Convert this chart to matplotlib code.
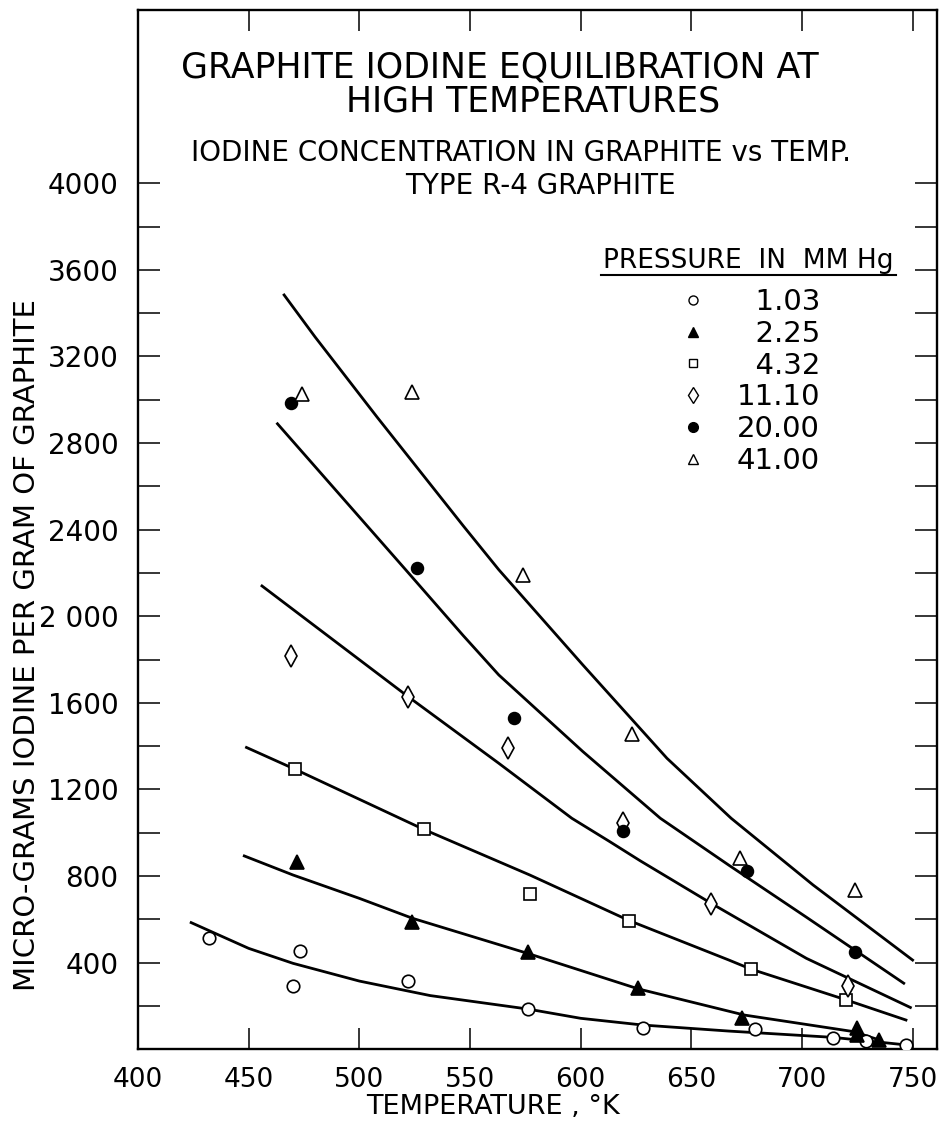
import numpy as np
import matplotlib
matplotlib.use("Agg")
import matplotlib.pyplot as plt
from matplotlib.lines import Line2D
from matplotlib.ticker import FixedLocator
from matplotlib.transforms import IdentityTransform

# pressure series (mm Hg)
pressures = ["1.03", "2.25", "4.32", "11.10", "20.00", "41.00"]

# measured points: temperature (K), iodine conc. (micro-g / g graphite)
t_p1 = [432, 473, 470, 522, 576, 628, 679, 714, 729, 747]
c_p1 = [513, 454, 292, 315, 184, 98, 94, 51, 39, 20]
t_p2 = [472, 524, 576, 626, 673, 725, 725, 735]
c_p2 = [867, 587, 451, 285, 146, 97, 65, 43]
t_p3 = [471, 529, 577, 622, 677, 720]
c_p3 = [1293, 1016, 719, 594, 370, 228]
t_p4 = [469, 522, 567, 619, 659, 721]
c_p4 = [1817, 1629, 1390, 1044, 670, 290]
t_p5 = [469, 526, 570, 619, 675, 724]
c_p5 = [2984, 2225, 1529, 1006, 824, 448]
t_p6 = [474, 524, 574, 623, 672, 724]
c_p6 = [3025, 3038, 2191, 1455, 885, 736]

# hand drawn curves
fit_t1 = [424, 450, 470, 500, 532, 576, 600, 628, 667, 714, 732, 749]
fit_c1 = [585, 466, 397, 315, 248, 186, 143, 112, 84, 55, 36, 18]
fit_t2 = [448, 470, 500, 524, 576, 626, 674, 723, 735]
fit_c2 = [893, 805, 697, 605, 443, 279, 158, 82, 43]
fit_t3 = [449, 471, 502, 529, 577, 622, 667, 677, 720, 747]
fit_c3 = [1394, 1293, 1145, 1016, 805, 594, 412, 370, 228, 135]
fit_t4 = [456, 522, 563, 596, 613, 627, 659, 702, 749]
fit_c4 = [2140, 1629, 1321, 1067, 960, 870, 674, 420, 193]
fit_t5 = [463, 521, 547, 563, 601, 636, 667, 702, 746]
fit_c5 = [2889, 2214, 1910, 1729, 1375, 1067, 850, 610, 305]
fit_t6 = [466, 480, 508, 547, 563, 601, 639, 668, 705, 750]
fit_c6 = [3484, 3290, 2920, 2417, 2215, 1775, 1344, 1067, 759, 412]

x_ticks = [400, 450, 500, 550, 600, 650, 700, 750]
y_ticks = [400, 800, 1200, 1600, 2000, 2400, 2800, 3200, 3600, 4000]
y_ticklabels = ["400", "800", "1200", "1600", "2 000", "2400", "2800", "3200", "3600", "4000"]
y_minor = [200, 600, 1000, 1400, 1800, 2200, 2600, 3000, 3400, 3800]

fig = plt.figure(figsize=(9.41, 11.28), dpi=100)
ax = fig.add_axes([0.1467, 0.0698, 0.849, 0.9213])

# curves
for ft, fc in [(fit_t1, fit_c1), (fit_t2, fit_c2), (fit_t3, fit_c3),
               (fit_t4, fit_c4), (fit_t5, fit_c5), (fit_t6, fit_c6)]:
    ax.plot(ft, fc, color="k", lw=2.0, zorder=2)

# marker styles per series: marker, size, face
styles = [("o", 9, "white"), ("^", 10, "black"), ("s", 8, "white"),
          ("d", 11, "white"), ("o", 8.5, "black"), ("^", 10, "white")]
pts = [(t_p1, c_p1), (t_p2, c_p2), (t_p3, c_p3),
       (t_p4, c_p4), (t_p5, c_p5), (t_p6, c_p6)]
for (t, c), (m, s, f) in zip(pts, styles):
    ax.plot(t, c, ls="none", marker=m, ms=s, mfc=f, mec="k", mew=1.2, zorder=3)

ax.set_xlim(400, 761)
ax.set_ylim(0, 4800)

ax.set_xticks(x_ticks)
ax.set_xticklabels([str(v) for v in x_ticks])
ax.set_yticks(y_ticks)
ax.set_yticklabels(y_ticklabels)
ax.yaxis.set_minor_locator(FixedLocator(y_minor))

ax.tick_params(axis="x", which="both", direction="in", length=15, width=1.1,
               top=True, labeltop=False, pad=13, labelsize=19)
ax.tick_params(axis="y", which="both", direction="in", length=16, width=1.1,
               right=True, labelright=False, pad=14, labelsize=20)
for sp in ax.spines.values():
    sp.set_linewidth(1.7)

ax.set_xlabel("TEMPERATURE , °K", fontsize=19.5)
ax.xaxis.set_label_coords(0.444, -0.043)
ax.set_ylabel("MICRO-GRAMS IODINE PER GRAM OF GRAPHITE", fontsize=21)
ax.yaxis.set_label_coords(-0.122, 0.389)

# title block
ax.text(0.453, 0.945, "GRAPHITE IODINE EQUILIBRATION AT", transform=ax.transAxes,
        ha="center", va="center", fontsize=25)
ax.text(0.495, 0.912, "HIGH TEMPERATURES", transform=ax.transAxes,
        ha="center", va="center", fontsize=25)
ax.text(0.479, 0.862, "IODINE CONCENTRATION IN GRAPHITE vs TEMP.", transform=ax.transAxes,
        ha="center", va="center", fontsize=20)
ax.text(0.504, 0.831, "TYPE R-4 GRAPHITE", transform=ax.transAxes,
        ha="center", va="center", fontsize=20)

# legend header (underlined)
hdr = ax.text(0.582, 0.7585, "PRESSURE  IN  MM Hg", transform=ax.transAxes,
              ha="left", va="center", fontsize=19)

# legend entries
leg_sizes = [6.5, 7.5, 6, 8, 7, 7.5]
handles = [Line2D([], [], ls="none", marker=m, ms=ls_, mfc=f, mec="k", mew=1.0)
           for (m, s, f), ls_ in zip(styles, leg_sizes)]
labels = [p if len(p) == 5 else "  " + p for p in pressures]
leg = ax.legend(handles, labels, loc="upper left", bbox_to_anchor=(0.680, 0.7325),
                frameon=False, fontsize=21,
                handlelength=0.8, handletextpad=1.1, labelspacing=0.13,
                borderpad=0, borderaxespad=0)

fig.canvas.draw()
bb = hdr.get_window_extent()
fig.add_artist(Line2D([bb.x0 - 2, bb.x1 + 2], [bb.y0 - 1, bb.y0 - 1],
                      transform=IdentityTransform(), color="k", lw=1.5))

fig.savefig("out.png", dpi=100, facecolor="white")
